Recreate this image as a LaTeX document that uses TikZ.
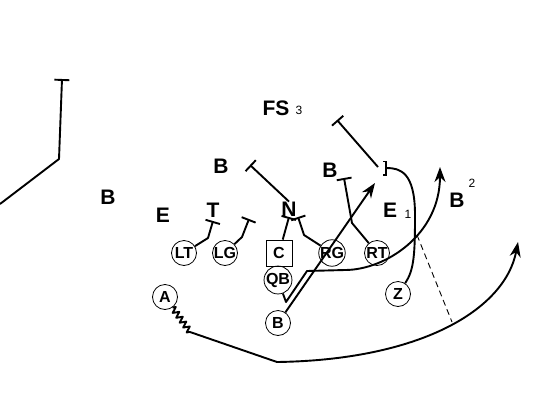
\documentclass[tikz,border=0pt]{standalone}
\usepackage{fontspec}
\setmainfont{Liberation Sans}
\usetikzlibrary{arrows.meta,decorations.pathmorphing}

\begin{document}
\begin{tikzpicture}[
        x=1pt,
        y=-1pt,
        route/.style={
            line width=1.9pt,
            line join=round,
        },
        route-block/.style={
            route,
            -{Bar[width=15pt]},
        },
        route-run/.style={
            route,
            -{Stealth[length=15pt,width=11pt]},
        },
        route-read/.style={
            dash pattern=on 6pt off 4pt,
            line width=0.9pt,
        },
        player/.style={
            draw,
            circle,
            line width=0.8pt,
            minimum size=25pt,
            inner sep=0pt,
            font=\bfseries\fontsize{16}{16}\selectfont,
        },
        snapper/.style={
            draw,
            rectangle,
            line width=0.8pt,
            minimum size=26pt,
            inner sep=0pt,
            font=\bfseries\fontsize{16}{16}\selectfont,
        },
        defender/.style={
            inner sep=0pt,
            font=\bfseries\fontsize{21}{21}\selectfont,
        },
        count/.style={
            inner sep=0pt,
            font=\fontsize{12}{12}\selectfont,
        },
    ]

    \useasboundingbox (0,0) rectangle (540,407);

    % Offense.
    \foreach \name/\x/\y in {LT/184/253, LG/225/253, RG/332/253, RT/377/253,
                             QB/278/280, A/165/297, B/278/323, Z/398/294}
    \node[player] (\name) at (\x, \y) {\name};
    \node[snapper] (C) at (279, 253) {C};

    % Defense.
    \node[defender] (dB1) at (108, 197) {B};
    \node[defender] (dE1) at (163, 215) {E};
    \node[defender] (dT) at (213, 210) {T};
    \node[defender] (dN) at (289, 209) {N};
    \node[defender] (dB2) at (221, 166) {B};
    \node[defender] (dFS) at (276, 108) {FS};
    \node[count] (nFS) at (299, 110) {3};
    \node[defender] (dB3) at (330, 170) {B};
    \node[defender] (dE2) at (390, 210) {E};
    \node[count] (nE2) at (408, 214) {1};
    \node[defender] (dB4) at (457, 200) {B};
    \node[count] (nB4) at (472, 183) {2};

    % Route ends and kinks.
    \coordinate (wideA) at (0, 204);
    \coordinate (wideB) at (59, 159);
    \coordinate (wideC) at (62, 79);
    \coordinate (ltKink) at (208, 238);
    \coordinate (ltEnd) at (213, 221);
    \coordinate (lgKink) at (242, 237);
    \coordinate (lgEnd) at (249, 219);
    \coordinate (cEnd) at (289, 217);
    \coordinate (rgKink) at (304, 235);
    \coordinate (rgEnd) at (298, 217);
    \coordinate (nEnd) at (250, 165);
    \coordinate (rtKink) at (352, 223);
    \coordinate (rtEnd) at (344, 178);
    \coordinate (fsStart) at (378, 167);
    \coordinate (fsEnd) at (337, 120);
    \coordinate (zTurn) at (415, 215);
    \coordinate (zEnd) at (383, 168);
    \coordinate (bEnd) at (375, 183);
    \coordinate (qbDrop) at (286, 302);
    \coordinate (qbCut) at (307, 271);
    \coordinate (qbRun) at (345, 270);
    \coordinate (qbEnd) at (440, 167);
    \coordinate (aZig) at (190, 332);
    \coordinate (aTurn) at (277, 362);
    \coordinate (aEnd) at (518, 242);
    \coordinate (readA) at (417, 235);
    \coordinate (readB) at (452, 322);

    % Blocks.
    \draw[route-block] (wideA) -- (wideB) -- (wideC);
    \draw[route-block] (LT) -- (ltKink) -- (ltEnd);
    \draw[route-block] (LG) -- (lgKink) -- (lgEnd);
    \draw[route-block] (C) -- (cEnd);
    \draw[route-block] (RG) -- (rgKink) -- (rgEnd);
    \draw[route-block] (dN.north) -- (nEnd);
    \draw[route-block] (RT) -- (rtKink) -- (rtEnd);
    \draw[route-block] (fsStart) -- (fsEnd);
    \draw[route, -{Bracket[reversed, width=15pt, length=3pt]}]
        (Z) .. controls (414, 270) and (415, 255) .. (zTurn)
        .. controls (415, 172) and (400, 168) .. (zEnd);

    % Runs.
    \draw[route-run] (B) -- (bEnd);
    \draw[route-run] (QB) -- (qbDrop) -- (qbCut) -- (qbRun)
        .. controls (385, 270) and (440, 235) .. (qbEnd);
    \draw[route, decorate, decoration={zigzag, segment length=6pt, amplitude=3pt}]
        (A) -- (aZig);
    \draw[route-run] (aZig) -- (aTurn)
        .. controls (420, 360) and (505, 310) .. (aEnd);

    % Read line.
    \draw[route-read] (readA) -- (readB);
\end{tikzpicture}
\end{document}
